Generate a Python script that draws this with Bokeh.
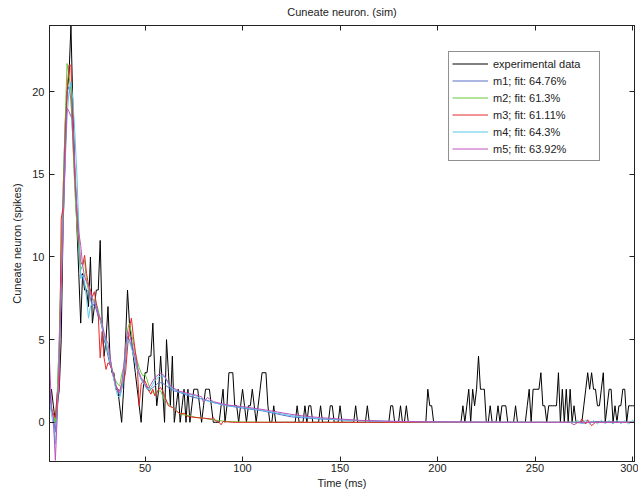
from bokeh.plotting import figure
from bokeh.models import Range1d, LinearAxis, Legend, LegendItem, FixedTicker
from bokeh.embed import file_html
from bokeh.resources import INLINE

# ---------------- data ----------------
t_exp = list(range(1, 302))
exp_data = [
    1, 2, 1, 0, 1, 2, 5, 12, 16, 20,
    21, 24, 19, 15, 12, 9, 6, 9, 8, 8,
    7, 10, 6, 7, 8, 8, 11, 6, 4, 5,
    7, 4, 3, 3, 2, 2, 1, 0, 2, 5,
    8, 6, 5, 4, 3, 2, 1, 0, 2, 3,
    3, 4, 4, 6, 3, 1, 2, 4, 2, 0,
    5, 3, 1, 4, 0, 1, 2, 0, 1, 2,
    0, 2, 0, 1, 2, 2, 2, 1, 0, 1,
    2, 2, 2, 1, 0, 0, 0, 0, 1, 2,
    0, 1, 3, 3, 3, 1, 1, 0, 1, 2,
    1, 0, 1, 1, 2, 1, 0, 1, 2, 3,
    3, 3, 1, 0, 0, 1, 0, 0, 0, 0,
    0, 0, 0, 0, 0, 0, 0, 1, 0, 0,
    0, 1, 0, 1, 1, 0, 0, 0, 0, 1,
    0, 0, 0, 0, 1, 1, 0, 0, 0, 1,
    0, 0, 0, 0, 0, 0, 0, 1, 0, 0,
    0, 0, 0, 1, 0, 0, 0, 0, 0, 0,
    0, 0, 0, 0, 0, 1, 1, 0, 0, 0,
    1, 0, 0, 1, 0, 0, 0, 0, 0, 0,
    0, 0, 0, 0, 2, 1, 1, 0, 0, 0,
    0, 0, 0, 0, 0, 0, 0, 0, 0, 0,
    0, 0, 1, 0, 1, 2, 0, 2, 1, 2,
    4, 2, 2, 2, 0, 0, 1, 0, 0, 0,
    1, 0, 1, 1, 1, 0, 0, 0, 0, 1,
    0, 0, 0, 0, 0, 1, 2, 0, 2, 2,
    2, 2, 3, 1, 1, 0, 1, 1, 1, 1,
    1, 3, 0, 2, 0, 2, 0, 2, 0, 1,
    0, 0, 0, 0, 1, 2, 3, 2, 3, 2,
    2, 1, 1, 2, 3, 0, 1, 2, 2, 0,
    1, 0, 1, 1, 2, 2, 0, 1, 1, 1,
    1,
]

early_t = list(range(1, 61))

m1_t = early_t + [62, 65, 68, 70, 75, 80, 85, 90, 95, 100, 110, 120, 125, 130,
                  140, 150, 160, 175, 200, 230, 270, 275, 280, 301]
m1_v = [1.9, 0.8, 0.3, -0.6, 1.5, 5.0, 9.0, 14.0, 18.0, 20.0,
        20.3, 19.5, 17.0, 14.5, 12.5, 10.5, 9.0, 8.8, 8.3, 8.0,
        7.9, 7.5, 7.0, 7.2, 6.8, 6.4, 6.2, 5.7, 5.0, 4.6,
        4.0, 3.5, 3.2, 2.6, 2.2, 2.0, 1.6, 2.0, 2.6, 3.8,
        5.2, 5.0, 4.6, 4.2, 3.6, 3.2, 2.9, 2.6, 2.4, 2.3,
        2.0, 1.9, 2.0, 2.1, 2.2, 2.3, 2.4, 2.4, 2.35, 2.3,
        2.1, 1.9, 1.8, 1.7, 1.5, 1.4, 1.2, 1.05, 0.95, 0.86, 0.7, 0.45, 0.33, 0.28,
        0.2, 0.15, 0.1, 0.06, 0.02, 0.0, 0.0, -0.05, 0.05, 0.0]

m2_t = early_t + [62, 64, 66, 68, 70, 73, 76, 80, 85, 88, 92, 100, 120, 301]
m2_v = [1.0, 0.8, 0.5, 0.0, 1.9, 5.0, 10.0, 14.0, 18.0, 21.7,
        21.0, 20.0, 17.0, 14.0, 12.0, 10.5, 9.2, 9.5, 9.8, 8.5,
        8.0, 7.8, 7.5, 7.4, 7.2, 6.8, 6.2, 5.8, 5.3, 4.8,
        4.3, 3.8, 3.3, 2.8, 2.5, 2.3, 2.2, 2.9, 3.3, 4.5,
        5.6, 6.0, 5.4, 4.8, 4.2, 3.7, 3.3, 3.0, 2.8, 2.9,
        2.6, 2.2, 1.9, 1.8, 1.7, 1.8, 1.9, 1.9, 1.6, 1.4,
        1.1, 0.9, 0.7, 0.5, 0.45, 0.4, 0.3, 0.25, 0.15, 0.1, 0.05, 0.02, 0.0, 0.0]

m3_t = early_t + [62, 64, 66, 68, 70, 72, 75, 80, 84, 85, 86, 88, 89, 90, 95,
                  273, 274, 276, 277, 279, 281, 301]
m3_v = [1.0, 0.8, 0.5, 0.3, 1.8, 1.9, 12.3, 13.0, 17.0, 20.0,
        21.6, 21.6, 17.6, 15.0, 13.0, 11.0, 9.7, 9.5, 10.1, 9.0,
        8.3, 8.0, 7.6, 7.9, 7.2, 6.5, 3.9, 5.5, 3.9, 3.2,
        3.6, 3.5, 3.2, 2.7, 2.2, 2.0, 1.9, 2.3, 2.5, 3.0,
        4.5, 5.7, 6.3, 5.2, 4.3, 3.5, 1.0, 2.3, 2.5, 2.5,
        2.2, 1.9, 1.7, 2.0, 1.6, 1.8, 2.0, 2.1, 1.9, 1.6,
        1.0, 0.9, 0.7, 0.5, 0.55, 0.35, 0.3, 0.25, 0.2, 0.3, 0.1, 0.0, -0.15, 0.05, 0.0,
        0.0, 0.2, -0.1, 0.15, -0.2, 0.0, 0.0]

m4_t = early_t + [63, 67, 72, 76, 80, 85, 92, 100, 110, 124, 130, 140, 150, 160, 175,
                  200, 270, 272, 274, 276, 278, 280, 282, 284, 286, 288, 290, 292,
                  294, 296, 298, 300, 301]
m4_v = [1.3, 0.5, -0.2, -1.3, 0.5, 4.0, 8.0, 12.0, 15.5, 18.5,
        20.0, 20.6, 19.5, 17.5, 15.1, 12.0, 8.7, 8.9, 8.5, 7.5,
        6.3, 7.0, 7.2, 7.3, 7.0, 6.6, 6.3, 5.8, 5.2, 4.8,
        4.3, 3.8, 3.2, 2.6, 2.0, 1.6, 1.5, 2.0, 3.0, 4.2,
        5.0, 4.9, 4.5, 4.1, 3.6, 3.2, 2.9, 2.6, 2.4, 2.2,
        2.0, 2.0, 2.1, 2.3, 2.5, 2.65, 2.75, 2.8, 2.8, 2.75,
        2.1, 1.85, 1.7, 1.6, 1.35, 1.2, 1.0, 0.9, 0.72, 0.42, 0.33, 0.22, 0.15, 0.1, 0.05,
        0.02, 0.0, 0.1, -0.1, 0.15, -0.1, 0.1, -0.1, 0.12, -0.08, 0.1, -0.1, 0.12,
        -0.08, 0.1, -0.1, 0.12, 0.05]

m5_t = early_t + [63, 67, 72, 76, 79, 80, 82, 85, 92, 100, 110, 124, 130, 140, 150,
                  160, 175, 200, 240, 268, 270, 272, 301]
m5_v = [3.7, 1.0, 0.2, -2.3, 0.5, 4.0, 8.0, 12.0, 16.0, 19.0,
        18.8, 18.5, 18.3, 15.5, 13.0, 11.5, 10.7, 9.5, 8.8, 8.5,
        8.3, 7.8, 7.4, 7.3, 7.0, 6.6, 6.3, 6.0, 5.4, 5.0,
        4.8, 4.0, 3.2, 2.8, 2.3, 1.9, 1.8, 2.3, 3.3, 4.5,
        5.5, 5.3, 4.9, 4.4, 3.9, 3.4, 3.0, 2.7, 2.5, 2.3,
        2.1, 2.1, 2.3, 2.5, 2.7, 2.8, 2.9, 2.95, 2.9, 2.8,
        2.2, 1.9, 1.75, 1.65, 1.55, 1.2, 1.5, 1.25, 1.05, 0.95, 0.78, 0.5, 0.4, 0.28, 0.2,
        0.12, 0.06, 0.03, 0.0, 0.0, -0.15, 0.0, 0.0]

labels = ["experimental data", "m1; fit: 64.76%", "m2; fit: 61.3%",
          "m3; fit: 61.11%", "m4; fit: 64.3%", "m5; fit: 63.92%"]
colors = ["#000000", "#5a6ec8", "#66c83c", "#e62828", "#5ac8e6", "#be50be"]

x_ticks = [50, 100, 150, 200, 250, 300]
y_ticks = [0, 5, 10, 15, 20]

FONT = "Liberation Sans"

# ---------------- figure ----------------
p = figure(width=638, height=495, output_backend="svg", toolbar_location=None,
           x_range=Range1d(1, 301), y_range=Range1d(-2.37, 24.0),
           title="Cuneate neuron. (sim)",
           min_border_left=49, min_border_right=4, min_border_top=25, min_border_bottom=34)
p.title.align = "center"
p.title.vertical_align = "top"
p.title.text_font = FONT
p.title.text_font_size = "11px"
p.title.text_font_style = "normal"
p.title.text_color = "#222222"
p.title.standoff = 11
p.outline_line_color = "#222222"
p.outline_line_width = 1
p.xgrid.visible = False
p.ygrid.visible = False
p.background_fill_color = "white"
p.border_fill_color = "white"

series = [(t_exp, exp_data), (m1_t, m1_v), (m2_t, m2_v), (m3_t, m3_v), (m4_t, m4_v), (m5_t, m5_v)]
renderers = []
for (tt, vv), c in zip(series, colors):
    r = p.line(tt, vv, line_color=c, line_width=1)
    renderers.append(r)


def style_axis(ax, ticks, show_labels=True):
    ax.ticker = FixedTicker(ticks=ticks)
    ax.minor_tick_line_color = None
    ax.major_tick_in = 5
    ax.major_tick_out = 0
    ax.axis_line_color = "#222222"
    ax.major_tick_line_color = "#222222"
    ax.major_label_text_font = FONT
    ax.major_label_text_font_size = "11px"
    ax.major_label_text_color = "#222222" if show_labels else None
    ax.axis_label_text_font = FONT
    ax.axis_label_text_font_size = "11px"
    ax.axis_label_text_font_style = "normal"
    ax.axis_label_text_color = "#222222"


style_axis(p.xaxis[0], x_ticks)
style_axis(p.yaxis[0], y_ticks)
p.xaxis[0].axis_label = "Time (ms)"
p.yaxis[0].axis_label = "Cuneate neuron (spikes)"
p.xaxis[0].major_label_standoff = 2
p.xaxis[0].axis_label_standoff = 2
p.yaxis[0].major_label_standoff = 5
p.yaxis[0].axis_label_standoff = 6

top_ax = LinearAxis()
style_axis(top_ax, x_ticks, show_labels=False)
top_ax.major_label_standoff = 0
p.add_layout(top_ax, "above")
right_ax = LinearAxis()
style_axis(right_ax, y_ticks, show_labels=False)
right_ax.major_label_standoff = 0
p.add_layout(right_ax, "right")

legend = Legend(items=[LegendItem(label=l, renderers=[r]) for l, r in zip(labels, renderers)],
                location=(399, 300))
legend.label_text_font = FONT
legend.label_text_font_size = "11px"
legend.label_text_color = "#222222"
legend.glyph_width = 36
legend.glyph_height = 17
legend.label_height = 17
legend.label_width = 103
legend.label_standoff = 5
legend.spacing = 0
legend.padding = 3
legend.margin = 0
legend.border_line_color = "#222222"
legend.border_line_width = 1
legend.background_fill_alpha = 1.0
p.add_layout(legend)

open("out.html", "w").write(file_html(p, INLINE))
